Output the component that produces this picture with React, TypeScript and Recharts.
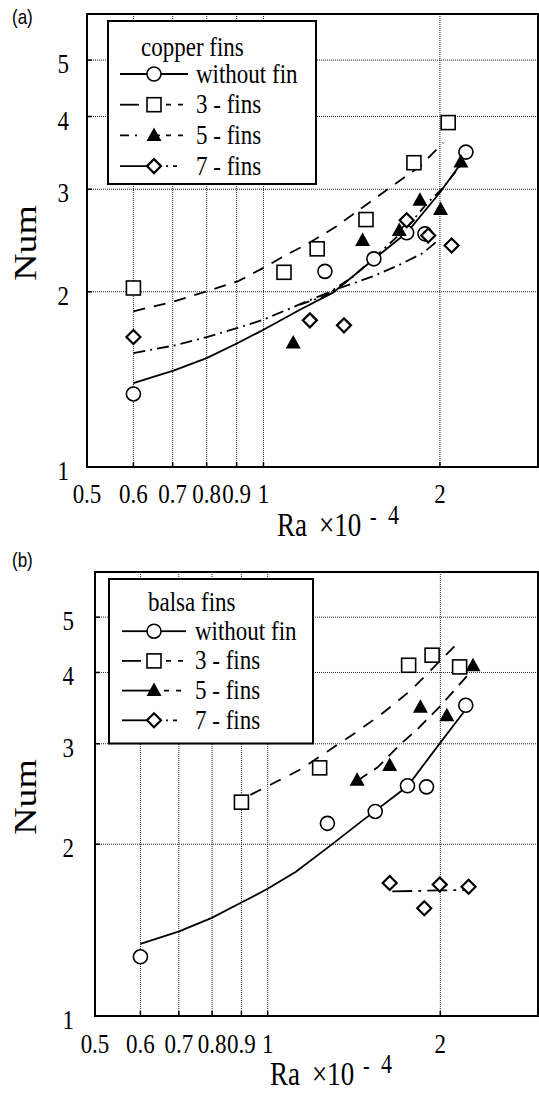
import React from 'react';
import {
  ComposedChart,
  Line,
  Scatter,
  XAxis,
  YAxis,
  CartesianGrid,
  ReferenceArea
} from 'recharts';

const SERIF = '"Liberation Serif", "Times New Roman", serif';
const SANS = '"Liberation Sans", Arial, sans-serif';
// the scanned figure is a bit taller than wide, so text gets stretched vertically
const STRETCH = 1.22;

const xTicks = [0.5, 0.6, 0.7, 0.8, 0.9, 1, 2];
const yTicks = [1, 2, 3, 4, 5];

// (a) copper fins: measured points
const copperNoFin = [
  { x: 0.6, y: 1.335 }, { x: 1.273, y: 2.168 }, { x: 1.543, y: 2.278 },
  { x: 1.755, y: 2.525 }, { x: 1.886, y: 2.515 }, { x: 2.215, y: 3.475 }
];
const copper3 = [
  { x: 0.6, y: 2.03 }, { x: 1.084, y: 2.16 }, { x: 1.235, y: 2.37 },
  { x: 1.496, y: 2.661 }, { x: 1.806, y: 3.332 }, { x: 2.066, y: 3.905 }
];
const copper5 = [
  { x: 1.124, y: 1.633 }, { x: 1.476, y: 2.449 }, { x: 1.705, y: 2.548 },
  { x: 1.849, y: 2.873 }, { x: 2.005, y: 2.769 }, { x: 2.172, y: 3.341 }
];
const copper7 = [
  { x: 0.6, y: 1.672 }, { x: 1.2, y: 1.786 }, { x: 1.372, y: 1.751 },
  { x: 1.755, y: 2.654 }, { x: 1.91, y: 2.498 }, { x: 2.094, y: 2.401 }
];

// (a) fitted curves
const copperNoFinFit = [
  { x: 0.6, y: 1.393 }, { x: 0.704, y: 1.465 }, { x: 0.8, y: 1.538 }, { x: 0.904, y: 1.633 },
  { x: 1.0, y: 1.721 }, { x: 1.154, y: 1.863 }, { x: 1.314, y: 1.993 }, { x: 1.54, y: 2.272 },
  { x: 1.757, y: 2.528 }, { x: 2.0, y: 2.962 }, { x: 2.18, y: 3.337 }
];
const copper3Fit = [
  { x: 0.6, y: 1.851 }, { x: 0.704, y: 1.925 }, { x: 0.8, y: 2.003 }, { x: 0.904, y: 2.084 },
  { x: 1.0, y: 2.198 }, { x: 1.096, y: 2.317 }, { x: 1.185, y: 2.411 }, { x: 1.333, y: 2.592 },
  { x: 1.5, y: 2.825 }, { x: 1.655, y: 3.033 }, { x: 1.849, y: 3.284 }, { x: 2.026, y: 3.607 }
];
const copper5Fit = [
  { x: 1.154, y: 1.901 }, { x: 1.263, y: 1.961 }, { x: 1.421, y: 2.123 }, { x: 1.58, y: 2.335 },
  { x: 1.743, y: 2.558 }, { x: 1.908, y: 2.848 }, { x: 2.02, y: 3.009 }, { x: 2.163, y: 3.284 }
];
const copper7Fit = [
  { x: 0.6, y: 1.569 }, { x: 0.704, y: 1.617 }, { x: 0.8, y: 1.672 }, { x: 0.904, y: 1.733 },
  { x: 1.0, y: 1.791 }, { x: 1.185, y: 1.925 }, { x: 1.35, y: 2.03 }, { x: 1.539, y: 2.126 },
  { x: 1.709, y: 2.227 }, { x: 1.873, y: 2.332 }, { x: 1.977, y: 2.442 }
];

// (b) balsa fins: measured points
const balsaNoFin = [
  { x: 0.6, y: 1.27 }, { x: 1.271, y: 2.176 }, { x: 1.54, y: 2.283 },
  { x: 1.753, y: 2.532 }, { x: 1.892, y: 2.521 }, { x: 2.215, y: 3.504 }
];
const balsa3 = [
  { x: 0.9, y: 2.37 }, { x: 1.232, y: 2.722 }, { x: 1.761, y: 4.118 },
  { x: 1.935, y: 4.289 }, { x: 2.161, y: 4.091 }
];
const balsa5 = [
  { x: 1.432, y: 2.588 }, { x: 1.632, y: 2.748 }, { x: 1.846, y: 3.476 },
  { x: 2.053, y: 3.359 }, { x: 2.28, y: 4.108 }
];
const balsa7 = [
  { x: 1.632, y: 1.71 }, { x: 1.875, y: 1.545 }, { x: 1.995, y: 1.7 }, { x: 2.24, y: 1.685 }
];

// (b) fitted curves
const balsaNoFinFit = [
  { x: 0.6, y: 1.338 }, { x: 0.701, y: 1.407 }, { x: 0.799, y: 1.486 }, { x: 0.898, y: 1.579 },
  { x: 0.998, y: 1.669 }, { x: 1.12, y: 1.79 }, { x: 1.286, y: 1.989 }, { x: 1.457, y: 2.193 },
  { x: 1.54, y: 2.288 }, { x: 1.753, y: 2.527 }, { x: 2.0, y: 3.014 }, { x: 2.196, y: 3.406 }
];
const balsa3Fit = [
  { x: 0.933, y: 2.441 }, { x: 1.011, y: 2.543 }, { x: 1.14, y: 2.703 }, { x: 1.271, y: 2.909 },
  { x: 1.41, y: 3.117 }, { x: 1.572, y: 3.369 }, { x: 1.773, y: 3.715 }, { x: 1.945, y: 4.079 },
  { x: 2.141, y: 4.499 }
];
const balsa5Fit = [
  { x: 1.433, y: 2.585 }, { x: 1.553, y: 2.725 }, { x: 1.703, y: 2.993 }, { x: 1.824, y: 3.182 },
  { x: 2.0, y: 3.494 }, { x: 2.141, y: 3.776 }, { x: 2.229, y: 3.949 }
];
const balsa7Fit = [
  { x: 1.649, y: 1.653 }, { x: 1.99, y: 1.66 }, { x: 2.234, y: 1.663 }
];

const seriesLabels = ['without fin', '3 - fins', '5 - fins', '7 - fins'];

type Pt = { x: number; y: number };
type MarkerKind = 'circle' | 'square' | 'triangle' | 'diamond';

const MarkerShape = ({ kind, cx, cy }: { kind: MarkerKind; cx: number; cy: number }) => {
  if (kind === 'circle') {
    return <circle cx={cx} cy={cy} r={7} fill="#fff" stroke="#000" strokeWidth={1.6} />;
  }
  if (kind === 'square') {
    return <rect x={cx - 7} y={cy - 7} width={14} height={14} fill="#fff" stroke="#000" strokeWidth={1.6} />;
  }
  if (kind === 'triangle') {
    return <polygon points={`${cx},${cy - 8} ${cx - 7.5},${cy + 5.5} ${cx + 7.5},${cy + 5.5}`} fill="#000" />;
  }
  return (
    <polygon
      points={`${cx},${cy - 7} ${cx + 7},${cy} ${cx},${cy + 7} ${cx - 7},${cy}`}
      fill="#fff"
      stroke="#000"
      strokeWidth={2.2}
    />
  );
};

interface Series {
  points: Pt[];
  fit: Pt[];
  marker: MarkerKind;
  dash: string;
  legendLeft: string;
  legendRight: string;
}

interface LegendCfg {
  box: [number, number, number, number];
  titleX: number;
  titleBase: number;
  rowBase: number;
  rowStep: number;
  sampleX1: number;
  sampleX2: number;
  markerX: number;
  textX: number;
}

interface PanelProps {
  tag: string;
  tagBase: number;
  title: string;
  xMax: number;
  height: number;
  top: number;
  left: number;
  plotBottom: number;
  xTickDy: number;
  yTickDx: number;
  series: Series[];
  legend: LegendCfg;
  numX: number;
  numY: number;
  raX: number;
  raBase: number;
}

const Panel: React.FC<PanelProps> = (p) => {
  const lg = p.legend;
  const [bx, by, bw, bh] = lg.box;

  const xTick = (props: any) => {
    const { x, y, payload } = props;
    return (
      <g>
        <line x1={x} y1={y} x2={x} y2={y - 5} stroke="#000" strokeWidth={1.5} />
        <text
          transform={`translate(${x},${y + p.xTickDy}) scale(1,${STRETCH})`}
          textAnchor="middle"
          fontSize={23}
          fontFamily={SERIF}
          fill="#000"
        >
          {payload.value}
        </text>
      </g>
    );
  };

  const yTick = (props: any) => {
    const { x, y, payload } = props;
    return (
      <g>
        <line x1={x} y1={y} x2={x + 5} y2={y} stroke="#000" strokeWidth={1.5} />
        <text
          transform={`translate(${x - p.yTickDx},${y + 13}) scale(1,${STRETCH})`}
          textAnchor="end"
          fontSize={23}
          fontFamily={SERIF}
          fill="#000"
        >
          {payload.value}
        </text>
      </g>
    );
  };

  return (
    <div style={{ position: 'relative', width: 539, height: p.height }}>
      <ComposedChart
        width={539}
        height={p.height}
        margin={{ top: p.top, right: 1, left: 0, bottom: 0 }}
      >
        <CartesianGrid stroke="#222" strokeDasharray="1 1" />
        <XAxis
          dataKey="x"
          type="number"
          scale="log"
          domain={[0.5, p.xMax]}
          allowDataOverflow
          ticks={xTicks}
          interval={0}
          height={p.height - p.plotBottom}
          tickSize={0}
          tickMargin={0}
          axisLine={false}
          tick={xTick}
        />
        <YAxis
          dataKey="y"
          type="number"
          scale="log"
          domain={[1, 6]}
          allowDataOverflow
          ticks={yTicks}
          interval={0}
          width={p.left}
          tickSize={0}
          tickMargin={0}
          axisLine={false}
          tick={yTick}
        />
        <ReferenceArea
          x1={0.5}
          x2={p.xMax}
          y1={1}
          y2={6}
          fill="none"
          fillOpacity={0}
          stroke="#000"
          strokeWidth={2}
        />
        {p.series.map((s, i) => (
          <Line
            key={'fit' + i}
            data={s.fit}
            dataKey="y"
            type="linear"
            stroke="#000"
            strokeWidth={1.8}
            strokeDasharray={s.dash || undefined}
            dot={false}
            activeDot={false}
            isAnimationActive={false}
          />
        ))}
        {p.series.map((s, i) => (
          <Scatter
            key={'pts' + i}
            data={s.points}
            dataKey="y"
            isAnimationActive={false}
            shape={(props: any) => <MarkerShape kind={s.marker} cx={props.cx} cy={props.cy} />}
          />
        ))}
      </ComposedChart>

      <svg
        width={539}
        height={p.height}
        style={{ position: 'absolute', left: 0, top: 0, pointerEvents: 'none' }}
      >
        <text
          transform={`translate(12,${p.tagBase}) scale(1,${STRETCH})`}
          fontSize={17}
          fontFamily={SANS}
          fill="#000"
        >
          {p.tag}
        </text>

        {/* legend */}
        <rect x={bx} y={by} width={bw} height={bh} fill="#fff" stroke="#000" strokeWidth={2} />
        <text
          transform={`translate(${lg.titleX},${lg.titleBase}) scale(1,${STRETCH})`}
          fontSize={23}
          fontFamily={SERIF}
          fill="#000"
        >
          {p.title}
        </text>
        {p.series.map((s, i) => {
          const base = lg.rowBase + i * lg.rowStep;
          const ly = base - 8.5;
          return (
            <g key={'lg' + i}>
              <line
                x1={lg.sampleX1}
                y1={ly}
                x2={lg.markerX}
                y2={ly}
                stroke="#000"
                strokeWidth={1.8}
                strokeDasharray={s.legendLeft || undefined}
              />
              <line
                x1={lg.markerX}
                y1={ly}
                x2={lg.sampleX2}
                y2={ly}
                stroke="#000"
                strokeWidth={1.8}
                strokeDasharray={s.legendRight || undefined}
              />
              <MarkerShape kind={s.marker} cx={lg.markerX} cy={ly} />
              <text
                transform={`translate(${lg.textX},${base}) scale(1,${STRETCH})`}
                fontSize={23}
                fontFamily={SERIF}
                fill="#000"
              >
                {seriesLabels[i]}
              </text>
            </g>
          );
        })}

        {/* axis titles */}
        <text
          transform={`translate(${p.numX},${p.numY}) rotate(-90) scale(${STRETCH},1)`}
          textAnchor="middle"
          fontSize={31}
          fontFamily={SERIF}
          fill="#000"
        >
          Num
        </text>
        <text transform={`translate(0,${p.raBase}) scale(1,${STRETCH})`} fontFamily={SERIF} fill="#000">
          <tspan x={p.raX} y={0} fontSize={27}>Ra</tspan>
          <tspan x={p.raX + 42} y={0} fontSize={27}>×10</tspan>
          <tspan x={p.raX + 93} y={-9} fontSize={20}>-</tspan>
          <tspan x={p.raX + 111} y={-10} fontSize={22}>4</tspan>
        </text>
      </svg>
    </div>
  );
};

const copperSeries: Series[] = [
  { points: copperNoFin, fit: copperNoFinFit, marker: 'circle', dash: '', legendLeft: '', legendRight: '' },
  { points: copper3, fit: copper3Fit, marker: 'square', dash: '12 9', legendLeft: '19 30', legendRight: '0 12 5 7 5 30' },
  { points: copper5, fit: copper5Fit, marker: 'triangle', dash: '10 5 2 5', legendLeft: '9 6 2 30', legendRight: '0 4 2 6 5 7 5 30' },
  { points: copper7, fit: copper7Fit, marker: 'diamond', dash: '12 5 2 5', legendLeft: '', legendRight: '0 5 2 5 2 5 4 30' }
];

const balsaSeries: Series[] = [
  { points: balsaNoFin, fit: balsaNoFinFit, marker: 'circle', dash: '', legendLeft: '', legendRight: '' },
  { points: balsa3, fit: balsa3Fit, marker: 'square', dash: '12 10', legendLeft: '19 30', legendRight: '0 12 5 7 5 30' },
  { points: balsa5, fit: balsa5Fit, marker: 'triangle', dash: '12 8', legendLeft: '', legendRight: '0 10 5 7 5 30' },
  { points: balsa7, fit: balsa7Fit, marker: 'diamond', dash: '20 6 3 6', legendLeft: '', legendRight: '0 5 2 5 2 5 4 30' }
];

export default function App() {
  return (
    <div
      style={{
        position: 'absolute',
        left: 0,
        top: 0,
        width: 539,
        height: 1095,
        background: '#fff',
        overflow: 'hidden'
      }}
    >
      <Panel
        tag="(a)"
        tagBase={24}
        title="copper fins"
        xMax={2.94}
        height={548}
        top={14}
        left={87}
        plotBottom={467}
        xTickDy={36}
        yTickDx={18}
        series={copperSeries}
        legend={{
          box: [108, 21, 208, 163],
          titleX: 141,
          titleBase: 56,
          rowBase: 82.5,
          rowStep: 30.7,
          sampleX1: 120,
          sampleX2: 188,
          markerX: 154,
          textX: 196
        }}
        numX={36}
        numY={243}
        raX={277}
        raBase={536}
      />
      <Panel
        tag="(b)"
        tagBase={19}
        title="balsa fins"
        xMax={2.96}
        height={547}
        top={24}
        left={95}
        plotBottom={468}
        xTickDy={37}
        yTickDx={21}
        series={balsaSeries}
        legend={{
          box: [109, 31, 204, 164.5],
          titleX: 148,
          titleBase: 62.5,
          rowBase: 91.7,
          rowStep: 29.7,
          sampleX1: 122,
          sampleX2: 186,
          markerX: 154,
          textX: 195
        }}
        numX={36}
        numY={249}
        raX={270}
        raBase={537}
      />
    </div>
  );
}
